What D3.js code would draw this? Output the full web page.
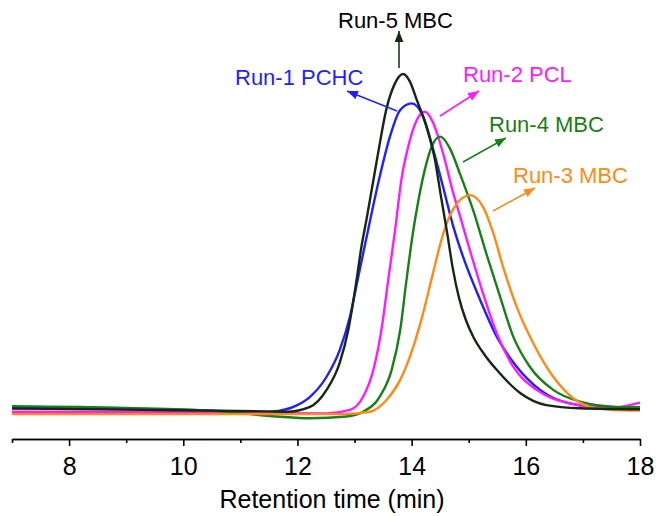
<!DOCTYPE html>
<html><head><meta charset="utf-8">
<script src="https://cdn.jsdelivr.net/npm/d3@7"></script>
<style>html,body{margin:0;padding:0;background:#fff}svg{display:block}</style>
</head><body>
<script>
// Retention time (min) and detector signal (arbitrary units)
const run5Time = [7.0, 9.0, 10.5, 11.5, 11.81, 12.22, 12.51, 12.74, 12.89, 13.04, 13.12, 13.21, 13.39, 13.56, 13.70, 13.85, 13.97, 14.09, 14.26, 14.41, 14.51, 14.62, 14.72, 14.83, 14.95, 15.09, 15.28, 15.49, 15.90, 16.36, 16.95, 18.0];
const run5Val  = [3.3, 3.0, 2.7, 2.5, 2.4, 3.8, 8.7, 16.5, 26.0, 41.0, 50.0, 58.0, 75.0, 90.0, 97.0, 100, 97.8, 92.5, 84.8, 75.1, 65.0, 54.3, 43.9, 35.3, 28.9, 23.7, 18.8, 14.5, 7.8, 4.3, 3.4, 3.1];

const run1Time = [7.0, 9.0, 10.5, 11.34, 11.58, 11.93, 12.22, 12.51, 12.74, 12.92, 13.06, 13.20, 13.44, 13.62, 13.80, 14.00, 14.20, 14.38, 14.55, 14.73, 14.90, 15.20, 15.49, 15.84, 16.25, 16.77, 17.42, 18.0];
const run1Val  = [3.5, 3.2, 2.7, 2.1, 2.4, 3.8, 6.7, 12.5, 20.2, 29.9, 41.0, 52.0, 70.3, 81.9, 89.6, 91.5, 87.7, 78.0, 67.4, 55.9, 47.2, 34.7, 24.1, 15.4, 8.7, 4.8, 3.7, 3.7];

const run2Time = [7.0, 10.0, 12.51, 12.92, 13.15, 13.33, 13.47, 13.59, 13.71, 13.82, 13.94, 14.09, 14.23, 14.38, 14.55, 14.73, 14.85, 15.02, 15.25, 15.49, 15.78, 16.19, 16.77, 17.47, 17.82, 18.0];
const run2Val  = [2.4, 2.3, 1.9, 2.9, 6.7, 14.5, 26.0, 40.5, 54.9, 69.4, 79.0, 86.7, 89.1, 85.8, 77.1, 65.5, 58.8, 49.1, 36.6, 25.1, 15.4, 8.7, 4.8, 3.4, 4.3, 5.0];

const run4Time = [7.0, 9.0, 10.5, 11.64, 12.22, 12.86, 13.15, 13.44, 13.65, 13.80, 13.91, 14.03, 14.12, 14.23, 14.35, 14.50, 14.67, 14.85, 15.08, 15.31, 15.55, 15.78, 16.07, 16.48, 16.95, 17.59, 18.0];
const run4Val  = [4.0, 3.5, 2.7, 1.0, 0.5, 1.0, 2.4, 6.7, 14.5, 26.0, 40.5, 54.9, 63.6, 72.3, 79.0, 81.9, 78.5, 71.0, 60.5, 48.0, 35.6, 24.1, 15.4, 8.7, 5.3, 3.8, 3.7];

const run3Time = [7.0, 11.93, 12.80, 13.27, 13.56, 13.80, 14.03, 14.20, 14.36, 14.53, 14.63, 14.73, 15.02, 15.25, 15.43, 15.60, 15.84, 16.13, 16.48, 16.83, 17.24, 17.82, 18.0];
const run3Val  = [1.7, 1.7, 1.7, 2.4, 5.8, 11.6, 21.2, 30.8, 41.5, 52.5, 57.5, 61.0, 65.0, 61.6, 54.0, 44.3, 32.7, 22.2, 12.5, 6.3, 3.4, 2.7, 2.7];

const runNames  = ["Run-5 MBC", "Run-1 PCHC", "Run-2 PCL", "Run-4 MBC", "Run-3 MBC"];
const runColors = ["#142814", "#1f1fff", "#ff1aff", "#178017", "#ff8a14"];
const majorTicks = [8, 10, 12, 14, 16, 18];
const minorTicks = [7, 9, 11, 13, 15, 17];
const xTitle = "Retention time (min)";

// label layout (pixels): text start/baseline and arrow from -> to
const labelLayout = [
  {tx: 338, ty: 28, x1: 399, y1: 68, x2: 399, y2: 31},
  {tx: 235, ty: 85, x1: 397, y1: 111, x2: 347, y2: 91},
  {tx: 463, ty: 82, x1: 440, y1: 116, x2: 479, y2: 91},
  {tx: 489, ty: 132, x1: 463, y1: 162, x2: 506, y2: 138},
  {tx: 513, ty: 183, x1: 493, y1: 211, x2: 535, y2: 188}
];

const W = 658, H = 516;
const svg = d3.select("body").append("svg").attr("width", W).attr("height", H);

const x = d3.scaleLinear().domain([7, 18]).range([12, 640]);
const y = d3.scaleLinear().domain([0, 100]).range([420, 74]);

const series = [
  {t: run5Time, v: run5Val},
  {t: run1Time, v: run1Val},
  {t: run2Time, v: run2Val},
  {t: run4Time, v: run4Val},
  {t: run3Time, v: run3Val}
].map((s, i) => ({name: runNames[i], color: runColors[i], pts: s.t.map((t, j) => [t, s.v[j]])}));

const line = d3.line().x(d => x(d[0])).y(d => y(d[1])).curve(d3.curveMonotoneX);

const drawOrder = [1, 2, 3, 4, 0];
svg.append("g").selectAll("path").data(drawOrder.map(i => series[i])).join("path")
  .attr("d", d => line(d.pts))
  .attr("fill", "none")
  .attr("stroke", d => d.color)
  .attr("stroke-width", 2.4)
  .attr("stroke-linejoin", "round");

// axis
const axisY = 439;
const gMinor = svg.append("g").attr("transform", `translate(0,${axisY})`)
  .call(d3.axisBottom(x).tickValues(minorTicks).tickSize(4).tickSizeOuter(0).tickFormat(""));
const gMajor = svg.append("g").attr("transform", `translate(0,${axisY})`)
  .call(d3.axisBottom(x).tickValues(majorTicks).tickSize(7).tickSizeOuter(0).tickPadding(11));
[gMinor, gMajor].forEach(g => {
  g.select(".domain").attr("stroke", "#000").attr("stroke-width", 1.6);
  g.selectAll(".tick line").attr("stroke", "#000").attr("stroke-width", 1.6);
});
gMajor.selectAll(".tick text")
  .attr("font-family", "Liberation Sans, Arial, sans-serif")
  .attr("font-size", 25).attr("fill", "#000");

svg.append("text")
  .attr("x", 332).attr("y", 508)
  .attr("text-anchor", "middle")
  .attr("font-family", "Liberation Sans, Arial, sans-serif")
  .attr("font-size", 25).attr("fill", "#000")
  .text(xTitle);

// arrow markers
const defs = svg.append("defs");
runColors.forEach((c, i) => {
  defs.append("marker").attr("id", "ah" + i)
    .attr("viewBox", "0 0 10 8").attr("refX", 10).attr("refY", 4)
    .attr("markerWidth", 11).attr("markerHeight", 9)
    .attr("markerUnits", "userSpaceOnUse").attr("orient", "auto")
    .append("path").attr("d", "M0,0 L10,4 L0,8 Z").attr("fill", c);
});

const ann = svg.append("g");
labelLayout.forEach((L, i) => {
  ann.append("line")
    .attr("x1", L.x1).attr("y1", L.y1).attr("x2", L.x2).attr("y2", L.y2)
    .attr("stroke", runColors[i]).attr("stroke-width", 1.5)
    .attr("marker-end", `url(#ah${i})`);
  ann.append("text")
    .attr("x", L.tx).attr("y", L.ty)
    .attr("font-family", "Liberation Sans, Arial, sans-serif")
    .attr("font-size", 22)
    .attr("fill", i === 0 ? "#000" : runColors[i])
    .text(runNames[i]);
});
</script>
</body></html>
